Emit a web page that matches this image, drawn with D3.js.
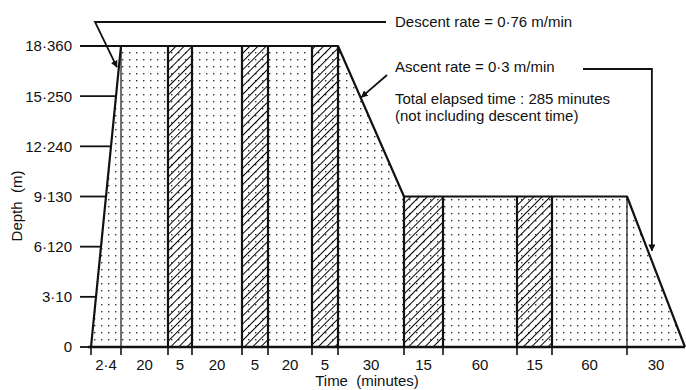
<!DOCTYPE html>
<html>
<head>
<meta charset="utf-8">
<script src="https://cdn.jsdelivr.net/npm/d3@7"></script>
<style>
  body { margin: 0; background: #fff; }
  svg text { font-family: "Liberation Sans", Arial, sans-serif; fill: #111; font-size: 15px; }
</style>
</head>
<body>
<div id="vis"></div>
<script>
// time segments along the dive, left to right
const SEG_LABELS = ['2·4', '20', '5', '20', '5', '20', '5', '30', '15', '60', '15', '60', '30']
const SEG_TYPES = ['descent', 'stay', 'break', 'stay', 'break', 'stay', 'break', 'ascent', 'break', 'stay', 'break', 'stay', 'ascent']
// depth (m) at each segment boundary
const PROFILE_DEPTHS = [0, 18, 18, 18, 18, 18, 18, 18, 9, 9, 9, 9, 9, 0]

const DEPTH_TICKS = [0, 3, 6, 9, 12, 15, 18]
const DEPTH_TICK_LABELS = ['0', '3·10', '6·120', '9·130', '12·240', '15·250', '18·360']

const NOTES = [
    'Descent rate = 0·76 m/min',
    'Ascent rate = 0·3 m/min',
    'Total elapsed time : 285 minutes',
    '(not including descent time)'
]

// the time axis is schematic: drawn width of each segment (not to scale)
const SEG_UNITS = [30, 47, 24, 50, 26, 44, 26, 66, 39, 74, 35, 75, 58]

const W = 686, H = 390
const margin = {top: 46, right: 1, bottom: 43, left: 91}

let svg = d3.select('#vis')
    .append('svg')
    .attr('width', W)
    .attr('height', H)

let edges = [0]
SEG_UNITS.forEach(u => edges.push(edges[edges.length - 1] + u))

let x = d3.scaleLinear()
    .domain([0, edges[edges.length - 1]])
    .range([margin.left, W - margin.right])

let y = d3.scaleLinear()
    .domain([0, 18])
    .range([H - margin.bottom, margin.top])

let defs = svg.append('defs')

let dots = defs.append('pattern')
    .attr('id', 'dots')
    .attr('patternUnits', 'userSpaceOnUse')
    .attr('width', 7)
    .attr('height', 7)
dots.append('rect')
    .attr('x', 3).attr('y', 3)
    .attr('width', 1.4).attr('height', 1.4)
    .attr('fill', '#333')

let hatch = defs.append('pattern')
    .attr('id', 'hatch')
    .attr('patternUnits', 'userSpaceOnUse')
    .attr('width', 5.8)
    .attr('height', 5.8)
    .attr('patternTransform', 'rotate(45)')
hatch.append('line')
    .attr('x1', 0).attr('y1', 0)
    .attr('x2', 0).attr('y2', 5.8)
    .attr('stroke', '#000')
    .attr('stroke-width', 2)

defs.append('marker')
    .attr('id', 'arrow')
    .attr('viewBox', '0 0 10 10')
    .attr('refX', 9)
    .attr('refY', 5)
    .attr('markerWidth', 7)
    .attr('markerHeight', 7)
    .attr('markerUnits', 'userSpaceOnUse')
    .attr('orient', 'auto')
    .append('path')
    .attr('d', 'M0,0 L10,5 L0,10 Z')
    .attr('fill', '#111')

let profile = PROFILE_DEPTHS.map((d, i) => [x(edges[i]), y(d)])

// dotted area under the profile
let area = d3.area()
    .x(d => d[0])
    .y0(y(0))
    .y1(d => d[1])

svg.append('path')
    .datum(profile)
    .attr('d', area)
    .attr('fill', 'url(#dots)')

// hatched break periods
let breaks = SEG_TYPES.map((t, i) => ({t, i})).filter(d => d.t === 'break')

svg.append('g')
    .selectAll('rect')
    .data(breaks)
    .enter().append('rect')
    .attr('x', d => x(edges[d.i]))
    .attr('y', d => y(PROFILE_DEPTHS[d.i]))
    .attr('width', d => x(edges[d.i + 1]) - x(edges[d.i]))
    .attr('height', d => y(0) - y(PROFILE_DEPTHS[d.i]))
    .attr('fill', 'url(#hatch)')

// vertical boundaries (thicker around breaks)
let inner = d3.range(1, edges.length - 1)
svg.append('g')
    .selectAll('line')
    .data(inner)
    .enter().append('line')
    .attr('x1', i => x(edges[i]))
    .attr('x2', i => x(edges[i]))
    .attr('y1', y(0))
    .attr('y2', i => y(PROFILE_DEPTHS[i]))
    .attr('stroke', '#111')
    .attr('stroke-width', i => (SEG_TYPES[i] === 'break' || SEG_TYPES[i - 1] === 'break') ? 2.2 : 1.2)

// depth ticks, drawn out to the descent line
svg.append('g')
    .selectAll('line')
    .data(DEPTH_TICKS)
    .enter().append('line')
    .attr('x1', 80)
    .attr('x2', d => x(edges[0] + SEG_UNITS[0] * d / PROFILE_DEPTHS[1]))
    .attr('y1', d => y(d))
    .attr('y2', d => y(d))
    .attr('stroke', '#111')
    .attr('stroke-width', 1.8)

svg.append('g')
    .selectAll('text')
    .data(DEPTH_TICKS)
    .enter().append('text')
    .attr('x', 72)
    .attr('y', d => y(d))
    .attr('dy', '0.36em')
    .attr('text-anchor', 'end')
    .text((d, i) => DEPTH_TICK_LABELS[i])

// profile line
svg.append('path')
    .datum(profile)
    .attr('d', d3.line())
    .attr('fill', 'none')
    .attr('stroke', '#111')
    .attr('stroke-width', 2.2)
    .attr('stroke-linejoin', 'round')

// time axis
svg.append('line')
    .attr('x1', 88)
    .attr('x2', x.range()[1])
    .attr('y1', y(0))
    .attr('y2', y(0))
    .attr('stroke', '#111')
    .attr('stroke-width', 2.6)

svg.append('g')
    .selectAll('line')
    .data(edges.slice(0, -1))
    .enter().append('line')
    .attr('x1', d => x(d))
    .attr('x2', d => x(d))
    .attr('y1', y(0))
    .attr('y2', y(0) + 8)
    .attr('stroke', '#111')
    .attr('stroke-width', 1.6)

svg.append('g')
    .selectAll('text')
    .data(SEG_LABELS)
    .enter().append('text')
    .attr('x', (d, i) => x((edges[i] + edges[i + 1]) / 2))
    .attr('y', y(0) + 23)
    .attr('text-anchor', 'middle')
    .text(d => d)

svg.append('text')
    .attr('x', 367)
    .attr('y', 386)
    .attr('text-anchor', 'middle')
    .style('white-space', 'pre')
    .text('Time  (minutes)')

svg.append('text')
    .attr('transform', `translate(22, 206) rotate(-90)`)
    .attr('text-anchor', 'middle')
    .style('white-space', 'pre')
    .text('Depth  (m)')

// annotations
let notes = svg.append('g')
notes.selectAll('text')
    .data(NOTES)
    .enter().append('text')
    .attr('x', 395)
    .attr('y', (d, i) => [27, 72, 104, 121][i])
    .text(d => d)

function along(i, t) {
    return [x(edges[i]) + t * (x(edges[i + 1]) - x(edges[i])),
        y(PROFILE_DEPTHS[i]) + t * (y(PROFILE_DEPTHS[i + 1]) - y(PROFILE_DEPTHS[i]))]
}

let arrowStyle = sel => sel
    .attr('fill', 'none')
    .attr('stroke', '#111')
    .attr('stroke-width', 1.8)
    .attr('marker-end', 'url(#arrow)')

let descTip = along(0, 0.93)
notes.append('path')
    .attr('d', d3.line()([[386, 22], [95, 22], [descTip[0] - 2, descTip[1]]]))
    .call(arrowStyle)

let ascTip = along(7, 0.34)
notes.append('path')
    .attr('d', d3.line()([[387, 75], [ascTip[0] + 1, ascTip[1]]]))
    .call(arrowStyle)

let lastTip = along(12, 0.36)
notes.append('path')
    .attr('d', d3.line()([[583, 69], [lastTip[0] + 4, 69], [lastTip[0] + 4, lastTip[1]]]))
    .call(arrowStyle)
</script>
</body>
</html>
